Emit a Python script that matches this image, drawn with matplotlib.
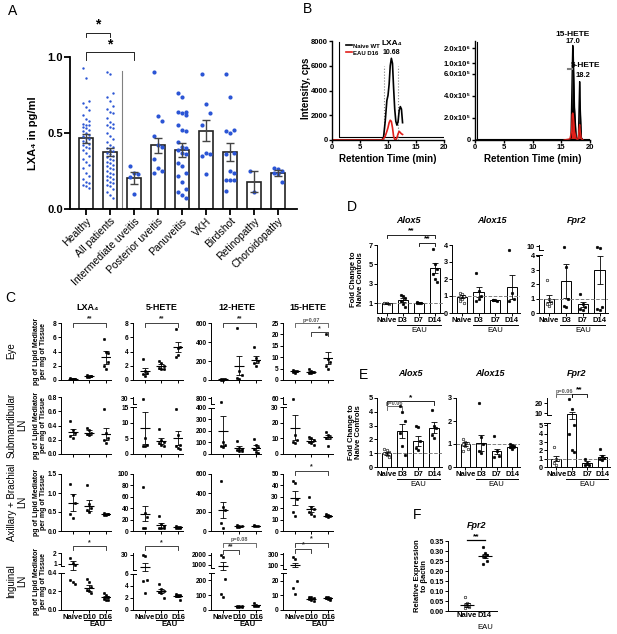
import numpy as np
import matplotlib
matplotlib.use("Agg")
import matplotlib.pyplot as plt

# ------------------------------------------------------------
# data
# ------------------------------------------------------------
# A: plasma LXA4 per patient group
A_GROUPS = ["Healthy", "All patients", "Intermediate uveitis", "Posterior uveitis",
            "Panuveitis", "VKH", "Birdshot", "Retinopathy", "Choroidopathy"]
A_MEAN = [0.465, 0.375, 0.205, 0.42, 0.39, 0.515, 0.375, 0.18, 0.235]
A_SEM = [0.03, 0.025, 0.04, 0.05, 0.045, 0.07, 0.06, 0.07, 0.02]
a_healthy = [0.93, 0.86, 0.71, 0.70, 0.67, 0.65, 0.62, 0.59, 0.58, 0.56, 0.55, 0.55, 0.54,
             0.53, 0.52, 0.51, 0.50, 0.49, 0.48, 0.47, 0.46, 0.45, 0.44, 0.43, 0.42, 0.41,
             0.40, 0.39, 0.37, 0.35, 0.33, 0.31, 0.29, 0.27, 0.24, 0.22, 0.20, 0.18, 0.17,
             0.16, 0.15, 0.14]
a_all = [0.90, 0.89, 0.76, 0.74, 0.71, 0.68, 0.66, 0.64, 0.63, 0.60, 0.57, 0.56, 0.55, 0.54,
         0.53, 0.50, 0.48, 0.46, 0.44, 0.42, 0.41, 0.40, 0.39, 0.38, 0.37, 0.36, 0.35, 0.34,
         0.33, 0.32, 0.31, 0.30, 0.29, 0.28, 0.27, 0.26, 0.25, 0.24, 0.23, 0.22, 0.21, 0.20,
         0.19, 0.18, 0.17, 0.16, 0.15, 0.13, 0.11, 0.09, 0.07]
a_intermediate = [0.28, 0.24, 0.23, 0.21, 0.10]
a_posterior = [0.90, 0.61, 0.58, 0.48, 0.42, 0.41, 0.33, 0.27, 0.25, 0.24]
a_panuveitis = [0.76, 0.74, 0.64, 0.64, 0.63, 0.62, 0.55, 0.52, 0.51, 0.44, 0.41, 0.40,
                0.39, 0.37, 0.36, 0.30, 0.28, 0.24, 0.22, 0.18, 0.13, 0.11, 0.09, 0.07]
a_vkh = [0.89, 0.69, 0.63, 0.55, 0.37, 0.36, 0.35, 0.23]
a_birdshot = [0.89, 0.74, 0.52, 0.51, 0.50, 0.37, 0.36, 0.25, 0.24, 0.19, 0.19, 0.19, 0.12]
a_retinopathy = [0.25, 0.11]
a_choroidopathy = [0.27, 0.26, 0.25, 0.24, 0.23, 0.18]
A_POINTS = [a_healthy, a_all, a_intermediate, a_posterior, a_panuveitis, a_vkh,
            a_birdshot, a_retinopathy, a_choroidopathy]

# B: chromatograms
b_t_naive = [0, 8.9, 9.2, 9.5, 9.8, 10.0, 10.2, 10.4, 10.6, 10.8, 11.0, 11.2, 11.4, 11.6,
             11.8, 12.0, 12.2, 12.4, 12.6]
b_i_naive = [0, 0, 200, 1500, 3200, 3600, 4500, 6000, 6600, 6200, 4200, 2500, 1500, 1200,
             1500, 2400, 2700, 2500, 1400]
b_t_eau = [0, 8.9, 9.2, 9.5, 9.8, 10.0, 10.2, 10.4, 10.6, 10.8, 11.0, 11.2, 11.4, 11.6,
           11.8, 12.0, 12.2, 12.4, 12.6]
b_i_eau = [0, 0, 100, 300, 700, 1000, 1400, 1600, 1500, 1000, 300, 50, 0, 200, 500, 700,
           600, 500, 450]
b2_t_naive = [0, 16.4, 16.7, 16.9, 17.0, 17.1, 17.3, 17.6, 17.9, 18.0, 18.1, 18.2, 18.3,
              18.5, 18.8]
b2_i_naive = [0, 0, 2e4, 6e5, 2.2e6, 1.5e6, 3e5, 2e4, 5e3, 5e4, 3e5, 5.3e5, 3e5, 2e4, 0]
b2_t_eau = [15.5, 16.5, 16.8, 16.9, 17.0, 17.1, 17.3, 17.6, 17.9, 18.0, 18.1, 18.2, 18.3,
            18.5, 18.8]
b2_i_eau = [0, 1e4, 8e4, 2.3e5, 2.45e5, 2.2e5, 8e4, 1e4, 5e3, 3e4, 1e5, 1.4e5, 8e4, 1e4, 0]

# C: lipid mediators per tissue (Naive, D10, D16)
C_GROUPS = ["Naive", "D10", "D16"]
C_MEDIATORS = ["LXA₄", "5-HETE", "12-HETE", "15-HETE"]
C_TISSUES = ["Eye", "Submandibular\nLN", "Axillary + Brachial\nLN", "Inguinal\nLN"]

eye_lxa4 = [[0.3, 0.2, 0.15, 0.1, 0.1], [0.7, 0.6, 0.5, 0.45, 0.4, 0.5], [5.7, 4.0, 3.8, 2.0, 1.5, 2.5]]
eye_lxa4_mean, eye_lxa4_sem = [0.17, 0.5, 3.2], [0.05, 0.05, 0.9]
eye_5hete = [[3.0, 1.3, 1.0, 0.8, 0.5], [2.6, 2.4, 2.0, 1.7, 1.5, 1.6], [7.2, 4.5, 4.6, 3.2, 3.5]]
eye_5hete_mean, eye_5hete_sem = [1.3, 1.9, 4.6], [0.45, 0.3, 0.7]
eye_12hete = [[10, 8, 6, 5, 4], [545, 100, 50, 20, 10], [350, 230, 200, 180, 150]]
eye_12hete_mean, eye_12hete_sem = [7, 150, 215], [2, 100, 40]
eye_15hete = [[4.5, 4.0, 3.8, 3.5, 3.2], [5.0, 4.0, 3.5, 3.0, 3.0], [20, 9, 8, 6, 5]]
eye_15hete_mean, eye_15hete_sem = [3.8, 3.6, 9.5], [0.3, 0.4, 2.7]

sub_lxa4 = [[0.46, 0.33, 0.3, 0.25, 0.22], [0.36, 0.34, 0.30, 0.28, 0.26], [0.63, 0.3, 0.22, 0.2, 0.15]]
sub_lxa4_mean, sub_lxa4_sem = [0.31, 0.3, 0.28], [0.04, 0.03, 0.09]
sub_5hete = [[29, 5, 3, 2.5, 2.5], [8, 4.5, 4, 3.5, 3, 2.5], [14.5, 6, 3, 2.5, 2, 1.5]]
sub_5hete_mean, sub_5hete_sem = [8.4, 4.2, 5.1], [5.2, 0.9, 2.3]
sub_12hete = [[740, 100, 80, 70, 60], [110, 50, 40, 35, 30, 25], [130, 80, 60, 40, 20, 10]]
sub_12hete_mean, sub_12hete_sem = [200, 50, 55], [130, 15, 20]
sub_15hete = [[58, 12, 9, 8, 7], [11, 10, 9, 8, 7, 6], [14, 12, 11, 10, 5]]
sub_15hete_mean, sub_15hete_sem = [17, 8.5, 11], [8, 1, 1.5]

axb_lxa4 = [[1.25, 0.95, 0.75, 0.45, 0.35], [1.22, 0.7, 0.6, 0.55, 0.5], [0.48, 0.46, 0.45, 0.43, 0.42, 0.44]]
axb_lxa4_mean, axb_lxa4_sem = [0.75, 0.67, 0.44], [0.22, 0.15, 0.02]
axb_5hete = [[78, 32, 25, 5, 5], [27, 12, 8, 6, 5, 5], [8, 7, 7, 6, 6, 6]]
axb_5hete_mean, axb_5hete_sem = [30, 10, 7], [13, 4, 0.5]
axb_12hete = [[530, 250, 220, 80, 30], [60, 55, 50, 45, 40], [58, 55, 52, 50]]
axb_12hete_mean, axb_12hete_sem = [225, 52, 55], [85, 5, 2]
axb_15hete = [[44, 42, 28, 17, 13], [30, 21, 19, 17, 15, 13], [15, 14, 13, 13, 12]]
axb_15hete_mean, axb_15hete_sem = [29, 19.5, 13.5], [6, 2.5, 0.7]

ing_lxa4 = [[1.5, 1.1, 0.9, 0.32, 0.3, 0.28], [0.33, 0.3, 0.25, 0.22, 0.2, 0.18], [0.18, 0.16, 0.14, 0.12, 0.11, 0.11]]
ing_lxa4_mean, ing_lxa4_sem = [0.95, 0.24, 0.14], [0.35, 0.03, 0.015]
ing_5hete = [[29, 28, 5, 4.8, 2.8], [4.2, 3.5, 3.2, 3.0, 2.8, 2.0], [2.6, 2.5, 2.4, 2.3, 2.3, 1.6]]
ing_5hete_mean, ing_5hete_sem = [14, 3.1, 2.3], [5.5, 0.3, 0.15]
ing_12hete = [[2000, 1800, 210, 110, 90], [30, 28, 25, 22, 20, 20], [45, 35, 30, 28, 25]]
ing_12hete_mean, ing_12hete_sem = [900, 24, 32], [400, 2, 4]
ing_15hete = [[250, 220, 20, 15, 11], [9, 8.5, 8, 7.5, 7, 6], [9, 8.5, 8, 8, 7.5, 6.5]]
ing_15hete_mean, ing_15hete_sem = [100, 7.7, 8], [35, 0.4, 0.3]

# D / E: fold change (Naive, D3, D7, D14)
DE_GROUPS = ["Naive", "D3", "D7", "D14"]
DE_GENES = ["Alox5", "Alox15", "Fpr2"]
d_alox5 = [[1.05, 1.0, 0.95, 0.98, 1.02], [1.9, 1.7, 1.5, 1.2, 0.9, 0.6], [1.1, 1.05, 1.0, 1.0], [6.6, 5.0, 4.5, 4.0, 3.5, 3.2]]
d_alox5_mean, d_alox5_sem = [1.0, 1.3, 1.05, 4.6], [0.03, 0.2, 0.04, 0.5]
d_alox15 = [[1.2, 1.1, 1.0, 0.9, 0.8, 0.6, 0.7], [2.35, 1.3, 1.0, 0.7, 0.8], [0.78, 0.75, 0.72, 0.75], [3.7, 1.2, 0.8, 0.7]]
d_alox15_mean, d_alox15_sem = [0.97, 1.22, 0.75, 1.55], [0.1, 0.3, 0.03, 0.7]
d_fpr2 = [[2.3, 1.0, 0.8, 0.6, 0.5, 0.7], [9.5, 3.2, 1.0, 0.5, 0.4], [1.3, 0.6, 0.4, 0.3, 0.2], [9.5, 9.0, 0.4, 0.3, 0.2]]
d_fpr2_mean, d_fpr2_sem = [1.0, 2.25, 0.6, 3.0], [0.25, 1.2, 0.15, 1.0]

e_alox5 = [[1.3, 1.2, 1.1, 1.0, 0.9, 0.75], [4.4, 4.0, 3.3, 2.5, 1.5, 0.9], [3.0, 2.9, 1.9, 1.4, 1.2], [4.1, 3.0, 2.8, 2.3, 2.1]]
e_alox5_mean, e_alox5_sem = [1.0, 2.6, 1.9, 2.85], [0.1, 0.5, 0.35, 0.4]
e_alox15 = [[1.2, 1.1, 1.05, 1.0, 0.9, 0.8, 0.7], [2.8, 1.3, 1.0, 0.7, 0.6], [1.35, 0.7, 0.5, 0.45], [1.0, 0.95, 0.9, 0.85, 0.8]]
e_alox15_mean, e_alox15_sem = [1.0, 1.05, 0.68, 0.87], [0.07, 0.35, 0.12, 0.05]
e_fpr2 = [[2.4, 1.0, 0.8, 0.5, 0.3], [24, 14, 5, 4, 2, 1.8], [1.0, 0.5, 0.3, 0.2], [2.2, 1.3, 1.1, 1.0, 0.8]]
e_fpr2_mean, e_fpr2_sem = [1.0, 9.0, 0.5, 1.2], [0.3, 2.5, 0.2, 0.2]

# F: relative expression
F_GROUPS = ["Naive", "D14"]
f_fpr2 = [[0.07, 0.04, 0.035, 0.03, 0.025, 0.02, 0.015], [0.32, 0.29, 0.28, 0.275, 0.27, 0.25, 0.235]]
f_fpr2_mean, f_fpr2_sem = [0.03, 0.275], [0.008, 0.012]

# ------------------------------------------------------------
# helpers
# ------------------------------------------------------------
plt.rcParams["font.family"] = ["Liberation Sans", "DejaVu Sans"]
plt.rcParams["font.weight"] = "bold"
plt.rcParams["axes.labelweight"] = "bold"

W, H = 617, 634
fig = plt.figure(figsize=(W / 100, H / 100), dpi=100)


def add_ax(l, t, r, b):
    """axes from pixel box (left, top, right, bottom)"""
    return fig.add_axes([l / W, 1 - b / H, (r - l) / W, (b - t) / H])


def style(ax, lw=0.7, fs=5, length=2):
    for s in ["top", "right"]:
        ax.spines[s].set_visible(False)
    ax.spines["left"].set_linewidth(lw)
    ax.spines["bottom"].set_linewidth(lw)
    ax.tick_params(length=length, width=lw, labelsize=fs, pad=1)


def set_break(ax, lo, f, hi0, f2, hi1, draw=True, lw=0.7):
    """piecewise-linear y scale: [0,lo]->[0,f], [hi0,hi1]->[f2,1]"""
    xs = np.array([0, lo, hi0, hi1], float)
    ys = np.array([0, f, f2, 1.0])

    def fwd(v):
        v = np.asarray(v, dtype=float)
        out = np.interp(v, xs, ys)
        out = np.where(v < 0, v / xs[1] * ys[1], out)
        return np.where(v > xs[-1], 1 + (v - xs[-1]) / (xs[-1] - xs[-2]) * (1 - ys[-2]), out)

    def inv(u):
        u = np.asarray(u, dtype=float)
        out = np.interp(u, ys, xs)
        out = np.where(u < 0, u / ys[1] * xs[1], out)
        return np.where(u > 1, xs[-1] + (u - 1) / (1 - ys[-2]) * (xs[-1] - xs[-2]), out)

    ax.set_yscale("function", functions=(fwd, inv))
    ax.set_ylim(0, hi1)
    if draw:
        ax.spines["left"].set_visible(False)
        tr = ax.get_yaxis_transform()
        ax.plot([0, 0], [0, lo], transform=tr, color="k", lw=lw, clip_on=False)
        ax.plot([0, 0], [hi0, hi1], transform=tr, color="k", lw=lw, clip_on=False)
        ax.plot([-0.05, 0.05], [lo, lo], transform=tr, color="k", lw=lw, clip_on=False)
        ax.plot([0, 0.06], [hi0, hi0], transform=tr, color="k", lw=lw, clip_on=False)


def bracket(ax, x0, x1, y, text, h=0.07, fs=5, color="#222", tick=True):
    tr = ax.get_xaxis_transform()
    if tick:
        ax.plot([x0, x0, x1, x1], [y - h, y, y, y - h], transform=tr, color=color,
                lw=0.6, clip_on=False)
    else:
        ax.plot([x0, x1], [y, y], transform=tr, color=color, lw=0.9, clip_on=False)
    ax.text((x0 + x1) / 2, y + 0.005, text, transform=tr, ha="center", va="bottom",
            fontsize=fs, color=color, clip_on=False)


def eau(ax, x0, x1, y_line, fs=5.5, weight="bold", line=True):
    tr = ax.get_xaxis_transform()
    if line:
        ax.plot([x0, x1], [y_line, y_line], transform=tr, color="k", lw=0.7, clip_on=False)
    ax.text((x0 + x1) / 2, y_line - 0.02, "EAU", transform=tr, ha="center", va="top",
            fontsize=fs, fontweight=weight)


def dots(ax, pts, means, sems, s=3, hollow_first=False, half=0.3):
    for i, vals in enumerate(pts):
        offs = ((np.arange(len(vals)) % 3) - 1) * 0.13
        fc = "white" if (hollow_first and i == 0) else "k"
        ax.scatter(i + offs, vals, s=s, facecolor=fc, edgecolor="k", linewidths=0.4,
                   zorder=3, clip_on=False)
        ax.hlines(means[i], i - half, i + half, color="k", lw=0.8, zorder=4)
        ax.errorbar(i, means[i], yerr=sems[i], fmt="none", ecolor="k", capsize=2,
                    elinewidth=0.6, capthick=0.6, zorder=4)


def letter(x, y, s):
    fig.text(x / W, 1 - y / H, s, fontsize=10, fontweight="normal", ha="center", va="center")


# ------------------------------------------------------------
# A
# ------------------------------------------------------------
ax = add_ax(70, 57, 297, 209)
style(ax, lw=1.3, fs=8, length=4)
xa = np.arange(len(A_GROUPS))
ax.bar(xa, A_MEAN, width=0.6, color="white", edgecolor="#222", lw=1.2, zorder=1)
for i, vals in enumerate(A_POINTS):
    small = len(vals) > 30
    offs = ((np.arange(len(vals)) % 3) - 1) * (0.12 if small else 0.16)
    ax.scatter(i + offs, vals, s=3 if small else 9, color="#2b55d5", lw=0, zorder=2)
ax.errorbar(xa, A_MEAN, yerr=A_SEM, fmt="none", ecolor="#444", capsize=3, elinewidth=1,
            capthick=1, zorder=3)
ax.plot([1.5, 1.5], [0, 0.91], color="gray", lw=0.8)
ax.set_xlim(-0.67, 8.8)
ax.set_ylim(0, 1.0)
ax.set_yticks([0, 0.5, 1.0])
ax.set_yticklabels(["0.0", "0.5", "1.0"])
ax.set_xticks(xa)
ax.set_xticklabels(A_GROUPS, rotation=45, ha="right", rotation_mode="anchor",
                   fontsize=7.5, fontweight="normal")
fig.text(33 / W, 1 - 133 / H, "LXA₄ in pg/ml", rotation=90, fontsize=8, ha="center", va="center")
bracket(ax, 0, 1, 1.16, "*", h=0.03, fs=10, color="k")
bracket(ax, 0, 2, 1.03, "*", h=0.05, fs=10, color="k")
letter(13, 11, "A")

# ------------------------------------------------------------
# B
# ------------------------------------------------------------
ax = add_ax(332, 41, 444, 140)
style(ax, lw=1.0, fs=5.5)
ax.plot([1.2, 1.2, 20], [7900, 250, 250], color="k", lw=0.8)
ax.vlines([9.2, 11.7], 0, 6000, colors="gray", linestyles=":", lw=0.8)
ax.plot(b_t_naive, b_i_naive, color="k", lw=1.2, label="Naive WT")
ax.plot(b_t_eau, b_i_eau, color="#e0201b", lw=1.2, label="EAU D16")
ax.set_xlim(0, 20)
ax.set_ylim(0, 8000)
ax.set_xticks([0, 5, 10, 15, 20])
ax.set_yticks([0, 2000, 4000, 6000, 8000])
ax.legend(loc="upper left", bbox_to_anchor=(0.1, 1.0), fontsize=4.3, frameon=False,
          handlelength=1, handletextpad=0.3, labelspacing=0.3, borderaxespad=0)
ax.text(10.68, 7500, "LXA₄", ha="center", va="bottom", fontsize=6)
ax.text(10.68, 6750, "10.68", ha="center", va="bottom", fontsize=5)
ax.set_xlabel("Retention Time (min)", fontsize=7, labelpad=2)
fig.text(306 / W, 1 - 88 / H, "Intensity, cps", rotation=90, fontsize=7, ha="center", va="center")

ax = add_ax(475, 41, 590, 140)
style(ax, lw=1.0, fs=5.5)
set_break(ax, 6.49e5, 0.722, 6.5e5, 0.7221, 2.5e6, draw=False)
ax.plot([0.3, 0.3, 20], [2.4e6, 6e3, 6e3], color="k", lw=0.8)
ax.fill_between(b2_t_naive, b2_i_naive, color="k", lw=0)
ax.plot(b2_t_naive, b2_i_naive, color="k", lw=1.0)
ax.fill_between(b2_t_eau, b2_i_eau, color="#e0201b", lw=0)
ax.plot(b2_t_eau, b2_i_eau, color="#e0201b", lw=1.0)
ax.plot([16.2, 16.8], [6.5e5, 6.5e5], color="gray", lw=1.5)
ax.set_xlim(0, 20)
ax.set_xticks([0, 5, 10, 15, 20])
ax.set_yticks([0, 2e5, 4e5, 6e5, 1e6, 2e6])
ax.set_yticklabels(["0", "2.0x10⁵", "4.0x10⁵", "6.0x10⁵", "1.0x10⁶", "2.0x10⁶"])
ax.minorticks_off()
tr = ax.get_xaxis_transform()
ax.text(17.0, 1.03, "15-HETE", transform=tr, ha="center", va="bottom", fontsize=6)
ax.text(17.0, 0.96, "17.0", transform=tr, ha="center", va="bottom", fontsize=5.5)
ax.text(19.2, 0.72, "5-HETE", transform=tr, ha="center", va="bottom", fontsize=6)
ax.text(18.8, 0.62, "18.2", transform=tr, ha="center", va="bottom", fontsize=5.5)
ax.set_xlabel("Retention Time (min)", fontsize=7, labelpad=2)
letter(308, 9, "B")

# ------------------------------------------------------------
# C
# ------------------------------------------------------------
c_data = [
    [(eye_lxa4, eye_lxa4_mean, eye_lxa4_sem), (eye_5hete, eye_5hete_mean, eye_5hete_sem),
     (eye_12hete, eye_12hete_mean, eye_12hete_sem), (eye_15hete, eye_15hete_mean, eye_15hete_sem)],
    [(sub_lxa4, sub_lxa4_mean, sub_lxa4_sem), (sub_5hete, sub_5hete_mean, sub_5hete_sem),
     (sub_12hete, sub_12hete_mean, sub_12hete_sem), (sub_15hete, sub_15hete_mean, sub_15hete_sem)],
    [(axb_lxa4, axb_lxa4_mean, axb_lxa4_sem), (axb_5hete, axb_5hete_mean, axb_5hete_sem),
     (axb_12hete, axb_12hete_mean, axb_12hete_sem), (axb_15hete, axb_15hete_mean, axb_15hete_sem)],
    [(ing_lxa4, ing_lxa4_mean, ing_lxa4_sem), (ing_5hete, ing_5hete_mean, ing_5hete_sem),
     (ing_12hete, ing_12hete_mean, ing_12hete_sem), (ing_15hete, ing_15hete_mean, ing_15hete_sem)],
]
# axis layout per cell: ("lin", top, ticks, labels) or ("brk", (lo, f, hi0, f2, hi1), ticks, labels)
c_axes = [
    [("lin", 8, [0, 2, 4, 6, 8], None), ("lin", 8, [0, 2, 4, 6, 8], None),
     ("lin", 600, [0, 200, 400, 600], None), ("lin", 25, [0, 5, 10, 15, 20, 25], None)],
    [("lin", 0.8, [0, 0.2, 0.4, 0.6, 0.8], ["0.0", "0.2", "0.4", "0.6", "0.8"]),
     ("brk", (15, 0.82, 25, 0.88, 31), [0, 5, 10, 15, 30], None),
     ("brk", (400, 0.81, 700, 0.88, 820), [0, 100, 200, 300, 400, 800], None),
     ("brk", (30, 0.82, 50, 0.88, 62), [0, 10, 20, 30, 60], None)],
    [("lin", 1.5, [0, 0.5, 1.0, 1.5], ["0.0", "0.5", "1.0", "1.5"]),
     ("lin", 100, [0, 20, 40, 60, 80, 100], None),
     ("lin", 600, [0, 200, 400, 600], None), ("lin", 50, [0, 10, 20, 30, 40, 50], None)],
    [("brk", (0.4, 0.65, 0.8, 0.77, 2.0), [0, 0.2, 0.4, 1, 2], ["0.0", "0.2", "0.4", "1", "2"]),
     ("brk", (6, 0.64, 10, 0.70, 32), [0, 2, 4, 6, 30], None),
     ("brk", (250, 0.65, 700, 0.74, 2200), [0, 100, 200, 1000, 2000], None),
     ("brk", (25, 0.645, 30, 0.72, 320), [0, 10, 20, 100, 300], None)],
]
c_brackets = {
    (0, 0): [(0, 2, 1.0, "**")], (0, 1): [(0, 2, 1.0, "**")], (0, 2): [(0, 2, 1.0, "**")],
    (0, 3): [(0, 2, 1.0, "p=0.07"), (1, 2, 0.84, "*")],
    (2, 3): [(0, 2, 1.06, "*")],
    (3, 0): [(0, 2, 1.12, "*")], (3, 1): [(0, 2, 1.12, "*")],
    (3, 2): [(0, 2, 1.18, "p=0.08"), (0, 1, 1.05, "**")],
    (3, 3): [(0, 2, 1.18, "*"), (0, 1, 1.07, "*")],
}
c_left = [61, 133, 211, 283]
c_top = [323, 397, 474, 553]
c_title_x = [88, 162, 237, 308]
for r in range(4):
    for c in range(4):
        ax = add_ax(c_left[c], c_top[r], c_left[c] + 50, c_top[r] + 57)
        style(ax, lw=0.7, fs=4.8)
        pts, mn, se = c_data[r][c]
        kind, spec, ticks, labels = c_axes[r][c]
        if kind == "lin":
            ax.set_ylim(0, spec)
        else:
            set_break(ax, *spec)
        dots(ax, pts, mn, se)
        ax.set_xlim(-0.7, 2.3)
        ax.set_yticks(ticks)
        if labels:
            ax.set_yticklabels(labels)
        ax.minorticks_off()
        ax.set_xticks(range(3))
        if r == 3:
            ax.set_xticklabels(C_GROUPS, fontsize=5.5)
            eau(ax, 0.7, 2.3, -0.18)
        else:
            ax.set_xticklabels([])
        for x0, x1, y, t in c_brackets.get((r, c), []):
            bracket(ax, x0, x1, y, t, fs=4 if t.startswith("p") else 5,
                    color="#555" if t.startswith("p") else "#222")
        if r == 0:
            fig.text(c_title_x[c] / W, 1 - 308 / H, C_MEDIATORS[c], fontsize=6.5,
                     ha="center", va="center")
    yc = 1 - (c_top[r] + 28) / H
    fig.text((11 if r == 0 else 17) / W, yc, C_TISSUES[r], rotation=90, fontsize=7,
             fontweight="normal", ha="center", va="center", linespacing=1.1)
    fig.text(40 / W, yc, "pg of Lipid Mediator\nper mg of Tissue", rotation=90,
             fontsize=5, ha="center", va="center", linespacing=1.0)
letter(10, 298, "C")


# ------------------------------------------------------------
# D / E
# ------------------------------------------------------------
def bar_panel(ax, pts, mn, se, ylim=None, brk=None, ticks=None):
    style(ax, lw=0.7, fs=5.3)
    if brk is not None:
        set_break(ax, *brk)
    else:
        ax.set_ylim(0, ylim)
    x = np.arange(len(mn))
    ax.bar(x, mn, width=0.62, color="white", edgecolor="k", lw=0.7, zorder=1)
    ax.errorbar(x, mn, yerr=se, fmt="none", ecolor="k", capsize=2, elinewidth=0.6,
                capthick=0.6, zorder=4)
    for i, vals in enumerate(pts):
        offs = ((np.arange(len(vals)) % 3) - 1) * 0.14
        ax.scatter(i + offs, vals, s=3.5, facecolor="white" if i == 0 else "k",
                   edgecolor="k", linewidths=0.4, zorder=3, clip_on=False)
    ax.axhline(1, ls="--", color="gray", lw=0.7, zorder=2)
    ax.set_xlim(-0.6, 3.5)
    ax.set_xticks(x)
    ax.set_xticklabels(DE_GROUPS, fontsize=5.5)
    ax.set_yticks(ticks)
    ax.minorticks_off()
    eau(ax, 0.65, 3.35, -0.18, fs=5.5, weight="normal")


d_cols = [(377, 443), (452, 520), (539, 608)]
axs = [add_ax(l, 245, r, 313) for l, r in d_cols]
bar_panel(axs[0], d_alox5, d_alox5_mean, d_alox5_sem, ylim=7, ticks=[1, 3, 5, 7])
bar_panel(axs[1], d_alox15, d_alox15_mean, d_alox15_sem, ylim=4, ticks=[0, 1, 2, 3, 4])
bar_panel(axs[2], d_fpr2, d_fpr2_mean, d_fpr2_sem, brk=(4.1, 0.86, 8, 0.92, 10.5),
          ticks=[0, 1, 2, 3, 4, 10])
bracket(axs[0], 0, 3, 1.15, "**", h=0.05, fs=6, color="k")
bracket(axs[0], 2, 3, 1.03, "**", h=0.05, fs=6, color="k")
for gx, g in zip([408, 492, 577], DE_GENES):
    fig.text(gx / W, 1 - 220 / H, g, fontsize=6.5, style="italic", ha="center", va="center")
fig.text(357 / W, 1 - 279 / H, "Fold Change to\nNaive Controls", rotation=90, fontsize=5.5,
         ha="center", va="center", linespacing=1.0)
letter(352, 207, "D")

e_cols = [(377, 442), (456, 520), (547, 610)]
axs = [add_ax(l, 398, r, 467) for l, r in e_cols]
bar_panel(axs[0], e_alox5, e_alox5_mean, e_alox5_sem, ylim=5, ticks=[0, 1, 2, 3, 4, 5])
bar_panel(axs[1], e_alox15, e_alox15_mean, e_alox15_sem, ylim=3, ticks=[0, 1, 2, 3])
bar_panel(axs[2], e_fpr2, e_fpr2_mean, e_fpr2_sem, brk=(5.3, 0.64, 8, 0.75, 25),
          ticks=[0, 1, 2, 3, 4, 5, 10, 20])
bracket(axs[0], 0, 3, 0.95, "*", h=0.05, fs=6, color="k")
bracket(axs[0], 0, 1, 0.88, "p=0.06", h=0.05, fs=4, color="#555")
bracket(axs[2], 0, 1, 1.06, "p=0.06", h=0.05, fs=4, color="#555")
bracket(axs[2], 1, 2, 1.06, "**", h=0.05, fs=6, color="k")
for gx, g in zip([410, 490, 577], DE_GENES):
    fig.text(gx / W, 1 - 373 / H, g, fontsize=6.5, style="italic", ha="center", va="center")
fig.text(355 / W, 1 - 432 / H, "Fold Change to\nNaive Controls", rotation=90, fontsize=5.5,
         ha="center", va="center", linespacing=1.0)
letter(364, 375, "E")

# ------------------------------------------------------------
# F
# ------------------------------------------------------------
ax = add_ax(448, 541, 497, 611)
style(ax, lw=0.7, fs=5.3)
dots(ax, f_fpr2, f_fpr2_mean, f_fpr2_sem, s=3.5, hollow_first=True, half=0.4)
ax.set_xlim(-1.05, 1.67)
ax.set_ylim(0, 0.35)
f_ticks = np.arange(0, 0.351, 0.05)
ax.set_yticks(f_ticks)
ax.set_yticklabels([f"{v:.2f}" for v in f_ticks])
ax.set_xticks(range(2))
ax.set_xticklabels(F_GROUPS, fontsize=5.5)
ax.tick_params(axis="x", length=0)
eau(ax, 0.6, 1.4, -0.16, fs=5.5, weight="normal", line=False)
bracket(ax, 0, 1, 1.01, "**", fs=6, color="k", tick=False)
fig.text(477 / W, 1 - 525 / H, "Fpr2", fontsize=6.5, style="italic", ha="center", va="center")
fig.text(421 / W, 1 - 576 / H, "Relative Expression\nto βactin", rotation=90, fontsize=5.5,
         ha="center", va="center", linespacing=1.0)
letter(417, 515, "F")

fig.savefig("out.png", dpi=100)
